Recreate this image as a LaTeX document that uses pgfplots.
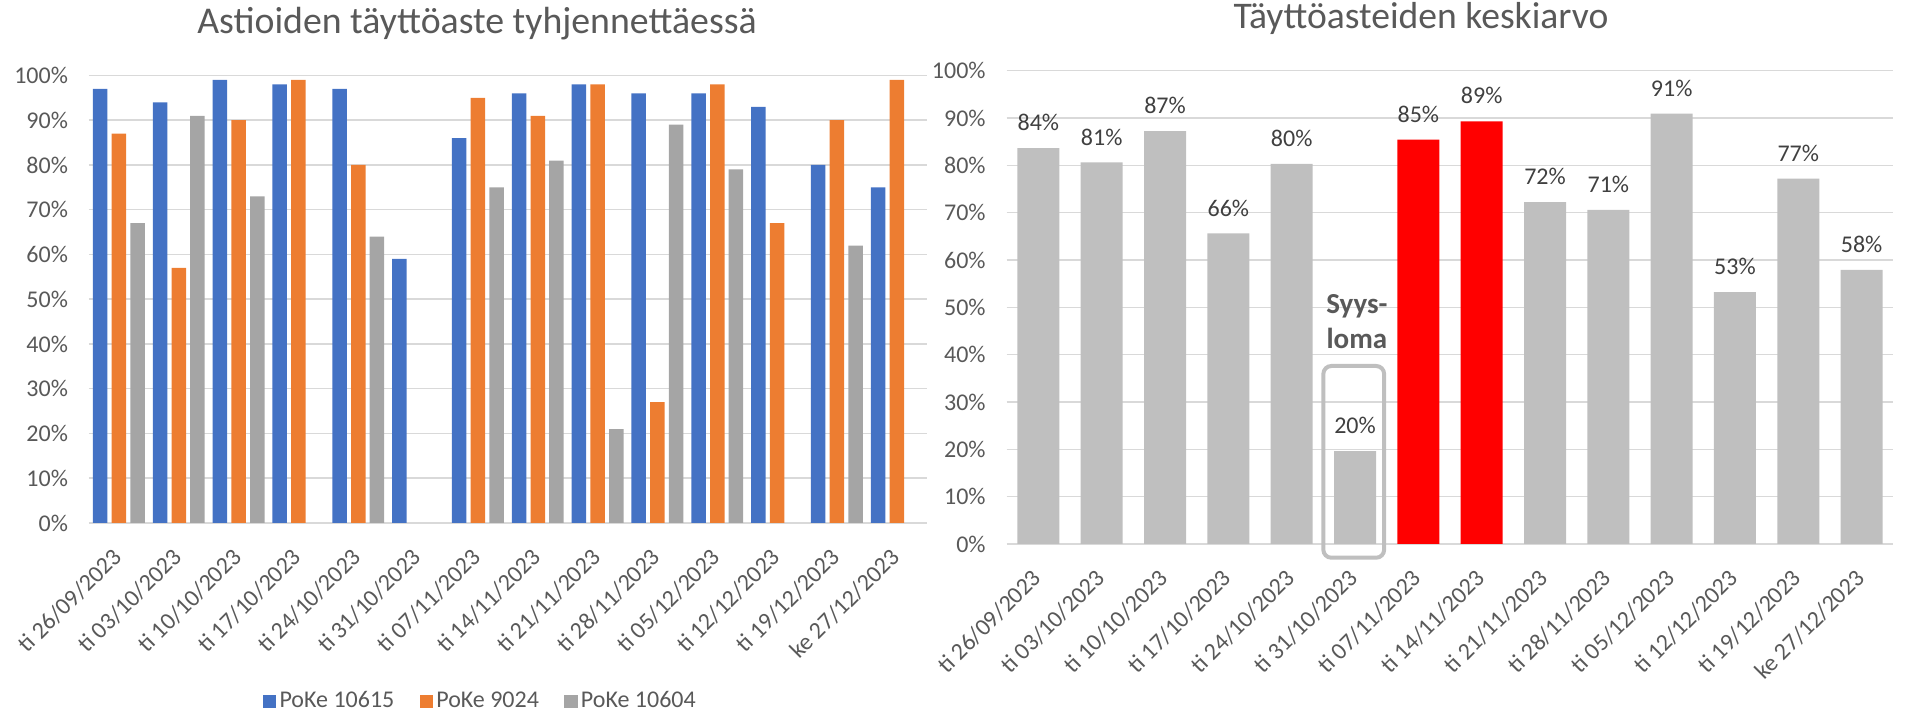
\documentclass[border=0pt]{standalone}
\usepackage{pgfplots}
\usepackage{pgfplotstable}
\pgfplotsset{compat=1.18}
\usepackage{fontspec}
\setmainfont{Carlito}
\definecolor{txt}{HTML}{595959}
\definecolor{lbl}{HTML}{404040}
\definecolor{grd}{HTML}{D9D9D9}
\definecolor{cblue}{HTML}{4472C4}
\definecolor{corange}{HTML}{ED7D31}
\definecolor{cgray}{HTML}{A5A5A5}
\definecolor{bgray}{HTML}{BFBFBF}
\definecolor{cred}{HTML}{FF0000}

\pgfplotstableread{
x a b c
0 97 87 67
1 94 57 91
2 99 90 73
3 98 99 nan
4 97 80 64
5 59 nan nan
6 86 95 75
7 96 91 81
8 98 98 21
9 96 27 89
10 96 98 79
11 93 67 nan
12 80 90 62
13 75 99 nan
}\leftdata

\pgfplotstableread{
x v
0 83.6
1 80.6
2 87.2
3 65.6
4 80.3
5 19.6
8 72.2
9 70.6
10 90.9
11 53.2
12 77.2
13 57.9
}\graydata

\pgfplotstableread{
x v
6 85.4
7 89.3
}\reddata

\newcommand{\lf}{\fontsize{12}{14}\selectfont}

\pgfplotsset{excel/.style={
  scale only axis, clip=false,
  xmin=-0.5, xmax=13.5, ymin=0, ymax=100,
  ytick={0,10,20,30,40,50,60,70,80,90,100},
  yticklabels={0\%,10\%,20\%,30\%,40\%,50\%,60\%,70\%,80\%,90\%,100\%},
  xtick={0,1,2,3,4,5,6,7,8,9,10,11,12,13},
  xticklabels={ti 26/09/2023,ti 03/10/2023,ti 10/10/2023,ti 17/10/2023,ti 24/10/2023,ti 31/10/2023,ti 07/11/2023,ti 14/11/2023,ti 21/11/2023,ti 28/11/2023,ti 05/12/2023,ti 12/12/2023,ti 19/12/2023,ke 27/12/2023},
  ymajorgrids, grid style={grd, line width=0.75pt},
  axis line style={draw=none}, major tick length=0pt,
  tick label style={font=\lf, text=txt},
  xticklabel style={xshift=1.8pt, yshift=-12.5pt, rotate=45, anchor=east},
  yticklabel style={xshift=-7pt},
}}

\begin{document}
\begin{tikzpicture}
\path[use as bounding box] (0,0) rectangle (954pt,356pt);

\node[anchor=base, font=\fontsize{18.9}{22}\selectfont, text=txt] at (238.5pt,339pt) {Astioiden täyttöaste tyhjennettäessä};
\node[anchor=base, font=\fontsize{18.8}{22}\selectfont, text=txt] at (710.5pt,341.5pt) {Täyttöasteiden keskiarvo};

\begin{axis}[excel,
  at={(44.5pt,94.5pt)}, anchor=south west,
  width=418.85pt, height=223.75pt,
  ybar=2.1pt, bar width=7.25pt,
  legend columns=3,
  legend image code/.code={\fill[#1] (0pt,-3.3pt) rectangle (6.6pt,3.3pt);},
  legend style={draw=none, fill=none, at={(0.468,-0.398)}, anchor=center,
    font=\lf, text=txt,
    nodes={inner sep=1.7pt},
    /tikz/every even column/.append style={column sep=11pt}},
]
\addplot[draw=none, fill=cblue] table[x=x, y=a] {\leftdata};
\addlegendentry{\lf PoKe 10615}
\addplot[draw=none, fill=corange] table[x=x, y=b] {\leftdata};
\addlegendentry{\lf PoKe 9024}
\addplot[draw=none, fill=cgray] table[x=x, y=c] {\leftdata};
\addlegendentry{\lf PoKe 10604}
\end{axis}

\begin{axis}[excel,
  at={(503.35pt,84pt)}, anchor=south west,
  width=443.3pt, height=236.7pt,
  ybar, bar width=21pt,
  point meta=y,
  nodes near coords={\pgfmathprintnumber{\pgfplotspointmeta}\%},
  every node near coord/.append style={font=\lf, text=lbl, yshift=5pt},
  /pgf/number format/fixed, /pgf/number format/precision=0,
  /pgf/number format/assume math mode=true,
]
\addplot[draw=none, fill=bgray, bar shift=0pt] table[x=x, y=v] {\graydata};
\addplot[draw=none, fill=cred, bar shift=0pt] table[x=x, y=v] {\reddata};
\draw[bgray, line width=2pt, rounded corners=4pt] (axis cs:4.5,-2.9) rectangle (axis cs:5.46,37.6);
\node[anchor=base, font=\bfseries\fontsize{14.5}{17}\selectfont, text=txt] at (axis cs:5.03,48.6) {Syys-};
\node[anchor=base, font=\bfseries\fontsize{14.5}{17}\selectfont, text=txt] at (axis cs:5.03,41.2) {loma};
\end{axis}
\end{tikzpicture}
\end{document}
